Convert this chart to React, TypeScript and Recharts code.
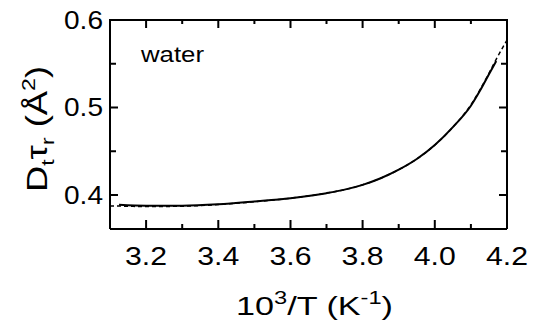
import React from 'react'
import { LineChart, Line, XAxis, YAxis } from 'recharts'

// 10^3/T values and D_t*tau_r (Å^2)
const xValues = [3.1, 3.125, 3.2, 3.3, 3.4, 3.5, 3.6, 3.7, 3.75, 3.8, 3.85, 3.9, 3.95, 4.0, 4.05, 4.1, 4.125, 4.15, 4.17, 4.2]
const solidValues = [null, 0.3886, 0.3876, 0.3877, 0.3893, 0.3925, 0.3962, 0.402, 0.406, 0.4115, 0.419, 0.4288, 0.441, 0.457, 0.4775, 0.502, 0.519, 0.538, 0.553, null]
const dashedValues = [0.3872, 0.3872, 0.3866, 0.3871, 0.3889, 0.3922, 0.3962, 0.402, 0.406, 0.4115, 0.419, 0.4288, 0.441, 0.457, 0.4775, 0.503, 0.52, 0.539, 0.555, 0.577]

const xTicks = [3.2, 3.3, 3.4, 3.5, 3.6, 3.7, 3.8, 3.9, 4.0, 4.1, 4.2]
const yTicks = [0.4, 0.45, 0.5, 0.55, 0.6]

const X_DOMAIN = [3.1, 4.2]
const Y_DOMAIN = [0.361, 0.6]

const data = xValues.map((x, i) => ({ x, solid: solidValues[i], dashed: dashedValues[i] }))

const FONT = '"Liberation Sans", Arial, Helvetica, sans-serif'
const AXIS = { stroke: '#000', strokeWidth: 2 }

const isMajorX = (v: number) => Math.round(v * 10) % 2 === 0
const isMajorY = (v: number) => Math.round(v * 100) % 10 === 0

function BottomTick(props: any) {
  const { x, y, payload } = props
  const v = payload.value
  if (!isMajorX(v)) return <g />
  return (
    <text x={x} y={y + 36} textAnchor="middle" fontSize={25} fontFamily={FONT} fill="#000"
      textLength={42} lengthAdjust="spacingAndGlyphs">
      {v.toFixed(1)}
    </text>
  )
}

function LeftTick(props: any) {
  const { x, y, payload } = props
  const v = payload.value
  if (!isMajorY(v)) return <g />
  return (
    <text x={x - 7} y={y + 9} textAnchor="end" fontSize={25} fontFamily={FONT} fill="#000"
      textLength={39} lengthAdjust="spacingAndGlyphs">
      {v.toFixed(1)}
    </text>
  )
}

// x title, top/right sides of the frame, inward x tick marks (bottom and top) and the "water" note
const xLabel = (props: any) => {
  const vb = props.viewBox
  const left = vb.x
  const right = vb.x + vb.width
  const bottom = vb.y
  const top = 20
  const cx = vb.x + vb.width / 2 + 6
  const px = (v: number) => left + ((v - X_DOMAIN[0]) / (X_DOMAIN[1] - X_DOMAIN[0])) * vb.width
  const d = xTicks
    .filter((v) => v < 4.19)
    .map((v) => {
      const major = isMajorX(v)
      const x = px(v).toFixed(1)
      return `M${x},${bottom} V${bottom - (major ? 9 : 5)} M${x},${top} V${top + (major ? 8 : 4)}`
    })
    .join(' ')
  return (
    <g>
      <path d={`M${left - 1},${top} H${right} V${bottom}`} fill="none" stroke="#000" strokeWidth={2} />
      <path d={d} fill="none" stroke="#000" strokeWidth={2} />
      <text x={left + 31} y={top + 42} fontSize={22} fontFamily={FONT} fill="#000"
        textLength={63} lengthAdjust="spacingAndGlyphs">
        water
      </text>
      <text x={cx} y={vb.y + 86} textAnchor="middle" fontSize={26} fontFamily={FONT} fill="#000"
        textLength={157} lengthAdjust="spacingAndGlyphs">
        <tspan>10</tspan>
        <tspan dy={-11} fontSize={18}>3</tspan>
        <tspan dy={11}>/T (K</tspan>
        <tspan dy={-11} fontSize={18}>-1</tspan>
        <tspan dy={11}>)</tspan>
      </text>
    </g>
  )
}

// y title plus inward y tick marks on the left and right sides
const yLabel = (props: any) => {
  const vb = props.viewBox
  const lx = vb.x - 3
  const ly = 129
  const left = vb.x + vb.width
  const right = 507
  const py = (v: number) => vb.y + ((Y_DOMAIN[1] - v) / (Y_DOMAIN[1] - Y_DOMAIN[0])) * vb.height
  const d = yTicks
    .filter((v) => v < 0.59)
    .map((v) => {
      const len = isMajorY(v) ? 8 : 6
      const y = py(v).toFixed(1)
      return `M${left},${y} H${left + len} M${right},${y} H${right - len}`
    })
    .join(' ')
  return (
    <g>
      <path d={d} fill="none" stroke="#000" strokeWidth={2} />
      <text x={lx} y={ly} transform={`rotate(-90 ${lx} ${ly})`} textAnchor="middle" fontSize={30}
        fontFamily={FONT} fill="#000" textLength={126} lengthAdjust="spacingAndGlyphs">
        <tspan>D</tspan>
        <tspan dy={7} fontSize={19}>t</tspan>
        <tspan dy={-7}>τ</tspan>
        <tspan dy={7} fontSize={19}>r</tspan>
        <tspan dy={-7}> (Å</tspan>
        <tspan dy={-12} fontSize={19}>2</tspan>
        <tspan dy={12}>)</tspan>
      </text>
    </g>
  )
}

export default function App() {
  return (
    <div style={{ position: 'absolute', left: 0, top: 0, width: 535, height: 328, background: '#fff' }}>
      <LineChart width={535} height={328} data={data} margin={{ top: 20, right: 28, bottom: 39, left: 50 }}>
        <XAxis xAxisId="b" orientation="bottom" type="number" dataKey="x" domain={X_DOMAIN} ticks={xTicks}
          allowDataOverflow interval={0} height={60} tickSize={0} tickMargin={0} tickLine={false}
          axisLine={AXIS} tick={BottomTick} label={xLabel} />
        <YAxis yAxisId="l" orientation="left" type="number" domain={Y_DOMAIN} ticks={yTicks}
          allowDataOverflow interval={0} width={60} tickSize={0} tickMargin={0} tickLine={false}
          axisLine={AXIS} tick={LeftTick} label={yLabel} />
        <Line xAxisId="b" yAxisId="l" type="monotone" dataKey="dashed" stroke="#000" strokeWidth={1.5}
          strokeDasharray="4 3" dot={false} isAnimationActive={false} />
        <Line xAxisId="b" yAxisId="l" type="monotone" dataKey="solid" stroke="#000" strokeWidth={2}
          dot={false} isAnimationActive={false} />
      </LineChart>
    </div>
  )
}
